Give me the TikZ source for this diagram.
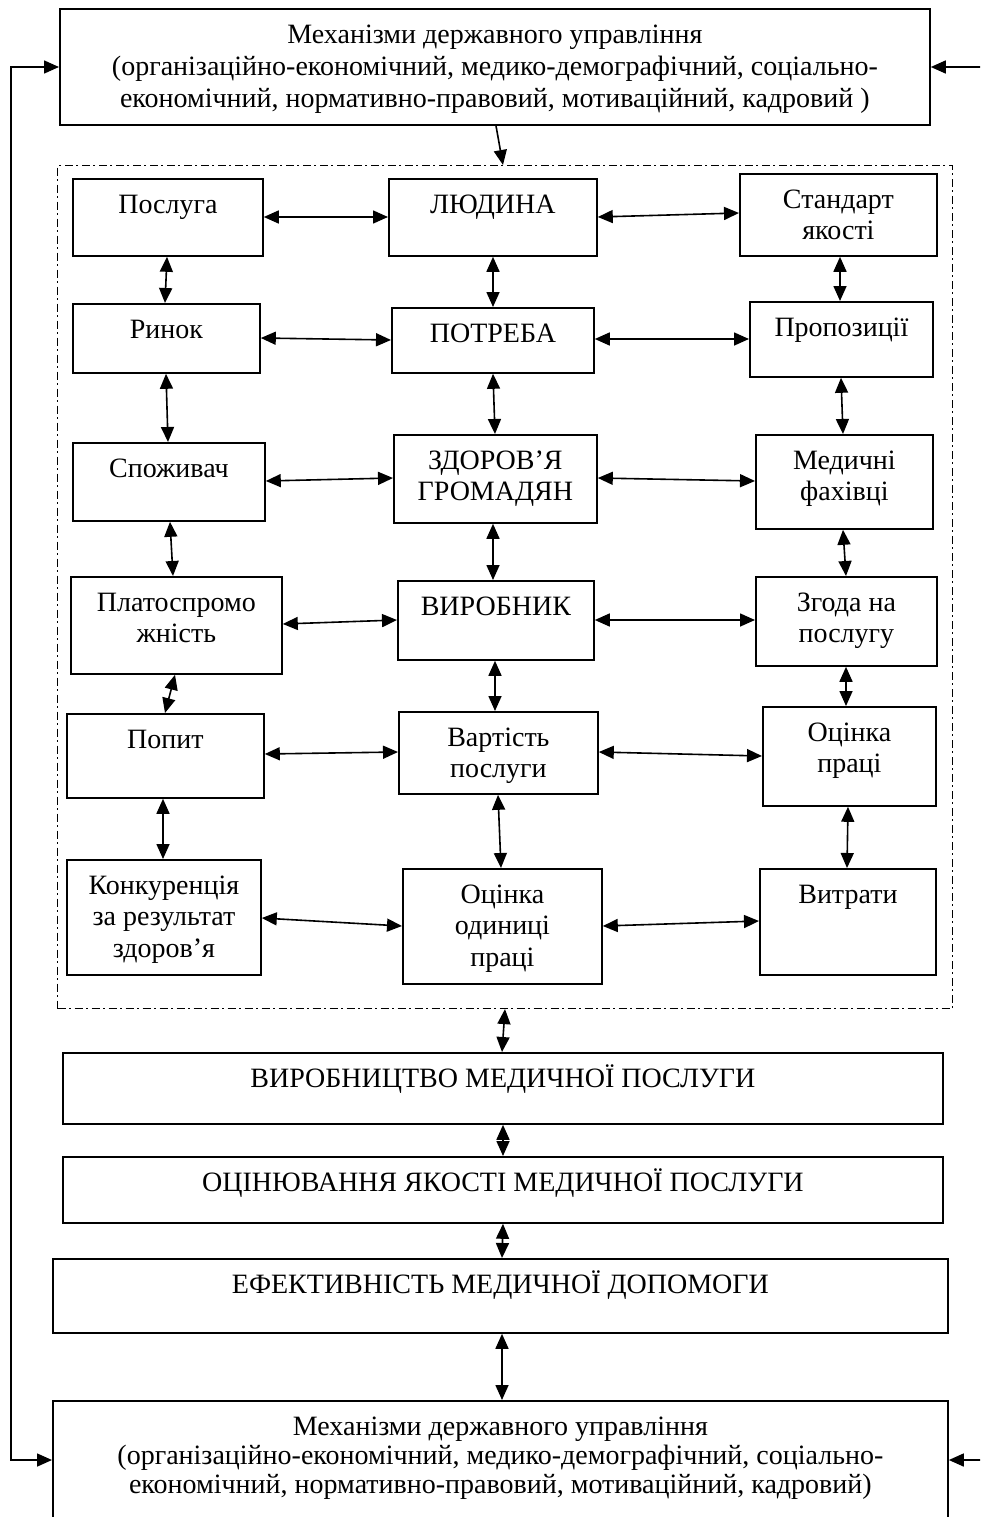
\documentclass[tikz,border=0pt]{standalone}
\usepackage{fontspec}
\setmainfont{Liberation Serif}
\usetikzlibrary{arrows.meta}
\tikzset{
  boxst/.style={draw, line width=1.8bp, inner sep=0pt, anchor=north west},
  lab/.style={anchor=north, inner sep=0pt, align=center, font=\fontsize{28bp}{31.5bp}\selectfont},
  dar/.style={line width=1.6bp, {Triangle[length=15bp,width=13bp]}-{Triangle[length=15bp,width=13bp]}},
  sar/.style={line width=1.6bp, -{Triangle[length=15bp,width=13bp]}},
  frm/.style={draw, line width=1.1bp, dash pattern=on 8bp off 3.5bp on 2bp off 3.5bp, inner sep=0pt, anchor=north west}
}
\newcommand\bx[7][]{%
  \node[boxst, minimum width={(#5-#3)*1bp}, minimum height={(#6-#4)*1bp}] (#2) at (#3,#4) {};
  \node[lab,#1] (#2-t) at (#2.north) {\rule{0pt}{35bp}#7};
}
\begin{document}
\begin{tikzpicture}[x=1bp,y=-1bp]
\useasboundingbox (0,0) rectangle (980,1517);
\begin{scope}
\clip (0,0) rectangle (980,1517);
% top and bottom boxes
\bx[font=\fontsize{28bp}{32bp}\selectfont]{top}{59}{8}{929}{124}{Механізми державного управління\\(організаційно-економічний, медико-демографічний, соціально-\\економічний, нормативно-правовий, мотиваційний, кадровий )}
\bx[font=\fontsize{28bp}{29bp}\selectfont]{bot}{52}{1400}{947}{1545}{Механізми державного управління\\(організаційно-економічний, медико-демографічний, соціально-\\економічний, нормативно-правовий, мотиваційний, кадровий)}
% dashed frame
\node[frm, minimum width=895bp, minimum height=843bp] (frame) at (57,165) {};
% inner boxes
\bx{posl}{72}{178}{262}{255}{Послуга}
\bx{lyud}{388}{178}{596}{255}{ЛЮДИНА}
\bx{stand}{739}{173}{936}{255}{Стандарт\\якості}
\bx{rynok}{72}{303}{259}{372}{Ринок}
\bx{potr}{391}{307}{593}{372}{ПОТРЕБА}
\bx{prop}{749}{301}{932}{376}{Пропозиції}
\bx{spoz}{72}{442}{264}{520}{Споживач}
\bx{zdor}{393}{434}{596}{522}{ЗДОРОВ’Я\\ГРОМАДЯН}
\bx{med}{755}{434}{932}{528}{Медичні\\фахівці}
\bx{plat}{70}{576}{281}{673}{Платоспромо\\жність}
\bx{vyrob}{397}{580}{593}{659}{ВИРОБНИК}
\bx{zgoda}{755}{576}{936}{665}{Згода на\\послугу}
\bx{popyt}{66}{713}{263}{797}{Попит}
\bx{vart}{398}{711}{597}{793}{Вартість\\послуги}
\bx{ocpr}{762}{706}{935}{805}{Оцінка\\праці}
\bx{konk}{66}{859}{260}{974}{Конкуренція\\за результат\\здоров’я}
\bx{ocod}{402}{868}{601}{983}{Оцінка\\одиниці\\праці}
\bx{vytr}{759}{868}{935}{974}{Витрати}
% bars
\bx{vyrobn}{62}{1052}{942}{1123}{ВИРОБНИЦТВО МЕДИЧНОЇ ПОСЛУГИ}
\bx{ocin}{62}{1156}{942}{1222}{ОЦІНЮВАННЯ ЯКОСТІ МЕДИЧНОЇ ПОСЛУГИ}
\bx{efekt}{52}{1258}{947}{1332}{ЕФЕКТИВНІСТЬ МЕДИЧНОЇ ДОПОМОГИ}
% feedback lines
\coordinate (L1) at (11,67);
\coordinate (L2) at (11,1460);
\coordinate (R1) at (981,67);
\coordinate (R2) at (981,1460);
\draw[dar] (top.west |- 0,67) -- (L1) -- (L2) -- (bot.west |- 0,1460);
\draw[sar] (R1) -- (top.east |- 0,67);
\draw[sar] (R2) -- (bot.east |- 0,1460);
\draw[sar] (top.south -| 496,0) -- (frame.north -| 503,0);
% horizontal connectors
\draw[dar] (posl.east |- 0,217) -- (lyud.west |- 0,217);
\draw[dar] (lyud.east |- 0,217) -- (stand.west |- 0,213);
\draw[dar] (rynok.east |- 0,338) -- (potr.west |- 0,340);
\draw[dar] (potr.east |- 0,339) -- (prop.west |- 0,339);
\draw[dar] (spoz.east |- 0,481) -- (zdor.west |- 0,478);
\draw[dar] (zdor.east |- 0,478) -- (med.west |- 0,481);
\draw[dar] (plat.east |- 0,624) -- (vyrob.west |- 0,620);
\draw[dar] (vyrob.east |- 0,620) -- (zgoda.west |- 0,620);
\draw[dar] (popyt.east |- 0,754) -- (vart.west |- 0,752);
\draw[dar] (vart.east |- 0,752) -- (ocpr.west |- 0,756);
\draw[dar] (konk.east |- 0,918) -- (ocod.west |- 0,926);
\draw[dar] (ocod.east |- 0,926) -- (vytr.west |- 0,921);
% vertical connectors
\draw[dar] (posl.south -| 167,0) -- (rynok.north -| 165,0);
\draw[dar] (rynok.south -| 166,0) -- (spoz.north -| 168,0);
\draw[dar] (spoz.south -| 170,0) -- (plat.north -| 173,0);
\draw[dar] (plat.south -| 175,0) -- (popyt.north -| 165,0);
\draw[dar] (popyt.south -| 163,0) -- (konk.north -| 163,0);
\draw[dar] (lyud.south -| 493,0) -- (potr.north -| 493,0);
\draw[dar] (potr.south -| 493,0) -- (zdor.north -| 495,0);
\draw[dar] (zdor.south -| 493,0) -- (vyrob.north -| 493,0);
\draw[dar] (vyrob.south -| 495,0) -- (vart.north -| 495,0);
\draw[dar] (vart.south -| 498,0) -- (ocod.north -| 501,0);
\draw[dar] (stand.south -| 840,0) -- (prop.north -| 840,0);
\draw[dar] (prop.south -| 841,0) -- (med.north -| 843,0);
\draw[dar] (med.south -| 843,0) -- (zgoda.north -| 846,0);
\draw[dar] (zgoda.south -| 846,0) -- (ocpr.north -| 846,0);
\draw[dar] (ocpr.south -| 848,0) -- (vytr.north -| 847,0);
\draw[dar] (frame.south -| 505,0) -- (vyrobn.north -| 502,0);
\draw[dar] (vyrobn.south -| 503,0) -- (ocin.north -| 503,0);
\draw[dar] (ocin.south -| 503,0) -- (efekt.north -| 502,0);
\draw[dar] (efekt.south -| 502,0) -- (bot.north -| 502,0);
\end{scope}
\end{tikzpicture}
\end{document}
